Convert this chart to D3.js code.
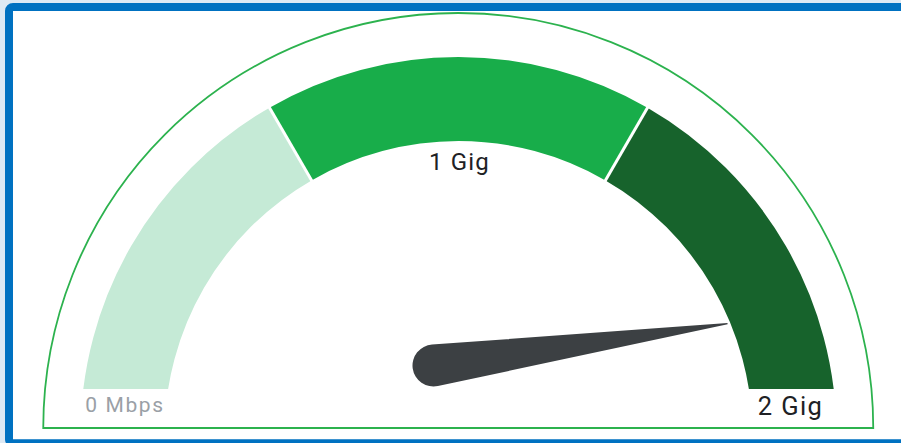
<!DOCTYPE html>
<html>
<head>
<meta charset="utf-8">
<script src="https://cdn.jsdelivr.net/npm/d3@7"></script>
<style>
  html, body { margin: 0; padding: 0; background: #dde9f4; }
  svg { display: block; }
</style>
</head>
<body>
<svg id="chart" width="901" height="443"></svg>
<script>
// ---- data ----
const bandEdges = [0, 2 / 3, 4 / 3, 2];          // gauge range in Gig
const bandNames = ["low", "mid", "high"];
const tickValues = [0, 1, 2];
const tickLabels = ["0 Mbps", "1 Gig", "2 Gig"];
const needleValue = [1.91];                        // current speed in Gig

// ---- styles ----
const bandColors = ["#c5ead6", "#18ad4a", "#17632c"];
const svg = d3.select("#chart");

// frame
svg.append("rect").attr("x", 9).attr("y", 7).attr("width", 900).attr("height", 436.3)
  .attr("rx", 4).attr("fill", "#ffffff").attr("stroke", "#0071c1").attr("stroke-width", 8);

// outline
const oc = { x: 458.25, y: 428 }, oR = 415;
svg.append("path")
  .attr("d", `M${oc.x - oR},${oc.y} A${oR},${oR} 0 0 1 ${oc.x + oR},${oc.y} Z`)
  .attr("fill", "none").attr("stroke", "#2cb24e").attr("stroke-width", 1.8);

// gauge
const gc = { x: 458.5, y: 435 }, rIn = 294, rOut = 378, cutY = 389;
const angle = d3.scaleLinear().domain([0, 2]).range([-Math.PI / 2, Math.PI / 2]);

svg.append("defs").append("clipPath").attr("id", "cut")
  .append("rect").attr("x", -500).attr("y", -500).attr("width", 1000).attr("height", 500 + (cutY - gc.y));

const g = svg.append("g").attr("transform", `translate(${gc.x},${gc.y})`);
const gb = g.append("g").attr("clip-path", "url(#cut)");
const arc = d3.arc().innerRadius(rIn).outerRadius(rOut);
const bands = bandNames.map((n, i) => ({ name: n, start: bandEdges[i], end: bandEdges[i + 1] }));
gb.selectAll("path.band").data(bands).join("path")
  .attr("class", "band")
  .attr("d", d => arc({ startAngle: angle(d.start), endAngle: angle(d.end) }))
  .attr("fill", (d, i) => bandColors[i]);

// separators
gb.selectAll("line.sep").data(bandEdges.slice(1, -1)).join("line")
  .attr("class", "sep")
  .attr("x1", d => Math.sin(angle(d)) * (rIn - 2)).attr("y1", d => -Math.cos(angle(d)) * (rIn - 2))
  .attr("x2", d => Math.sin(angle(d)) * (rOut + 2)).attr("y2", d => -Math.cos(angle(d)) * (rOut + 2))
  .attr("stroke", "#ffffff").attr("stroke-width", 3);

// labels
const labelPos = [
  { x: 125, y: 412, size: 21, ls: 1.6, color: "#9aa0a6" },
  { x: 459.5, y: 170, size: 24, ls: 1.2, color: "#202124" },
  { x: 790.5, y: 415, size: 25.5, ls: 1.4, color: "#202124" }
];
svg.selectAll("text.tick").data(tickValues).join("text")
  .attr("class", "tick")
  .attr("x", (d, i) => labelPos[i].x).attr("y", (d, i) => labelPos[i].y)
  .attr("text-anchor", "middle")
  .attr("font-family", "Roboto, 'Noto Sans', sans-serif")
  .attr("font-size", (d, i) => labelPos[i].size)
  .attr("letter-spacing", (d, i) => labelPos[i].ls)
  .attr("fill", (d, i) => labelPos[i].color)
  .text((d, i) => tickLabels[i]);

// needle
const pivot = { x: 433.5, y: 365.5 }, nR = 21, nLen = 297;
const alpha = Math.acos(nR / nLen);
const tx = nR * Math.sin(alpha), ty = -nR * Math.cos(alpha);
const needlePath = `M0.6,${-nLen} L${tx},${ty} A${nR},${nR} 0 1 1 ${-tx},${ty} L-0.6,${-nLen} Z`;
svg.selectAll("path.needle").data(needleValue).join("path")
  .attr("class", "needle")
  .attr("d", needlePath)
  .attr("transform", d => `translate(${pivot.x},${pivot.y}) rotate(${angle(d) * 180 / Math.PI})`)
  .attr("fill", "#3c4043");
</script>
</body>
</html>
